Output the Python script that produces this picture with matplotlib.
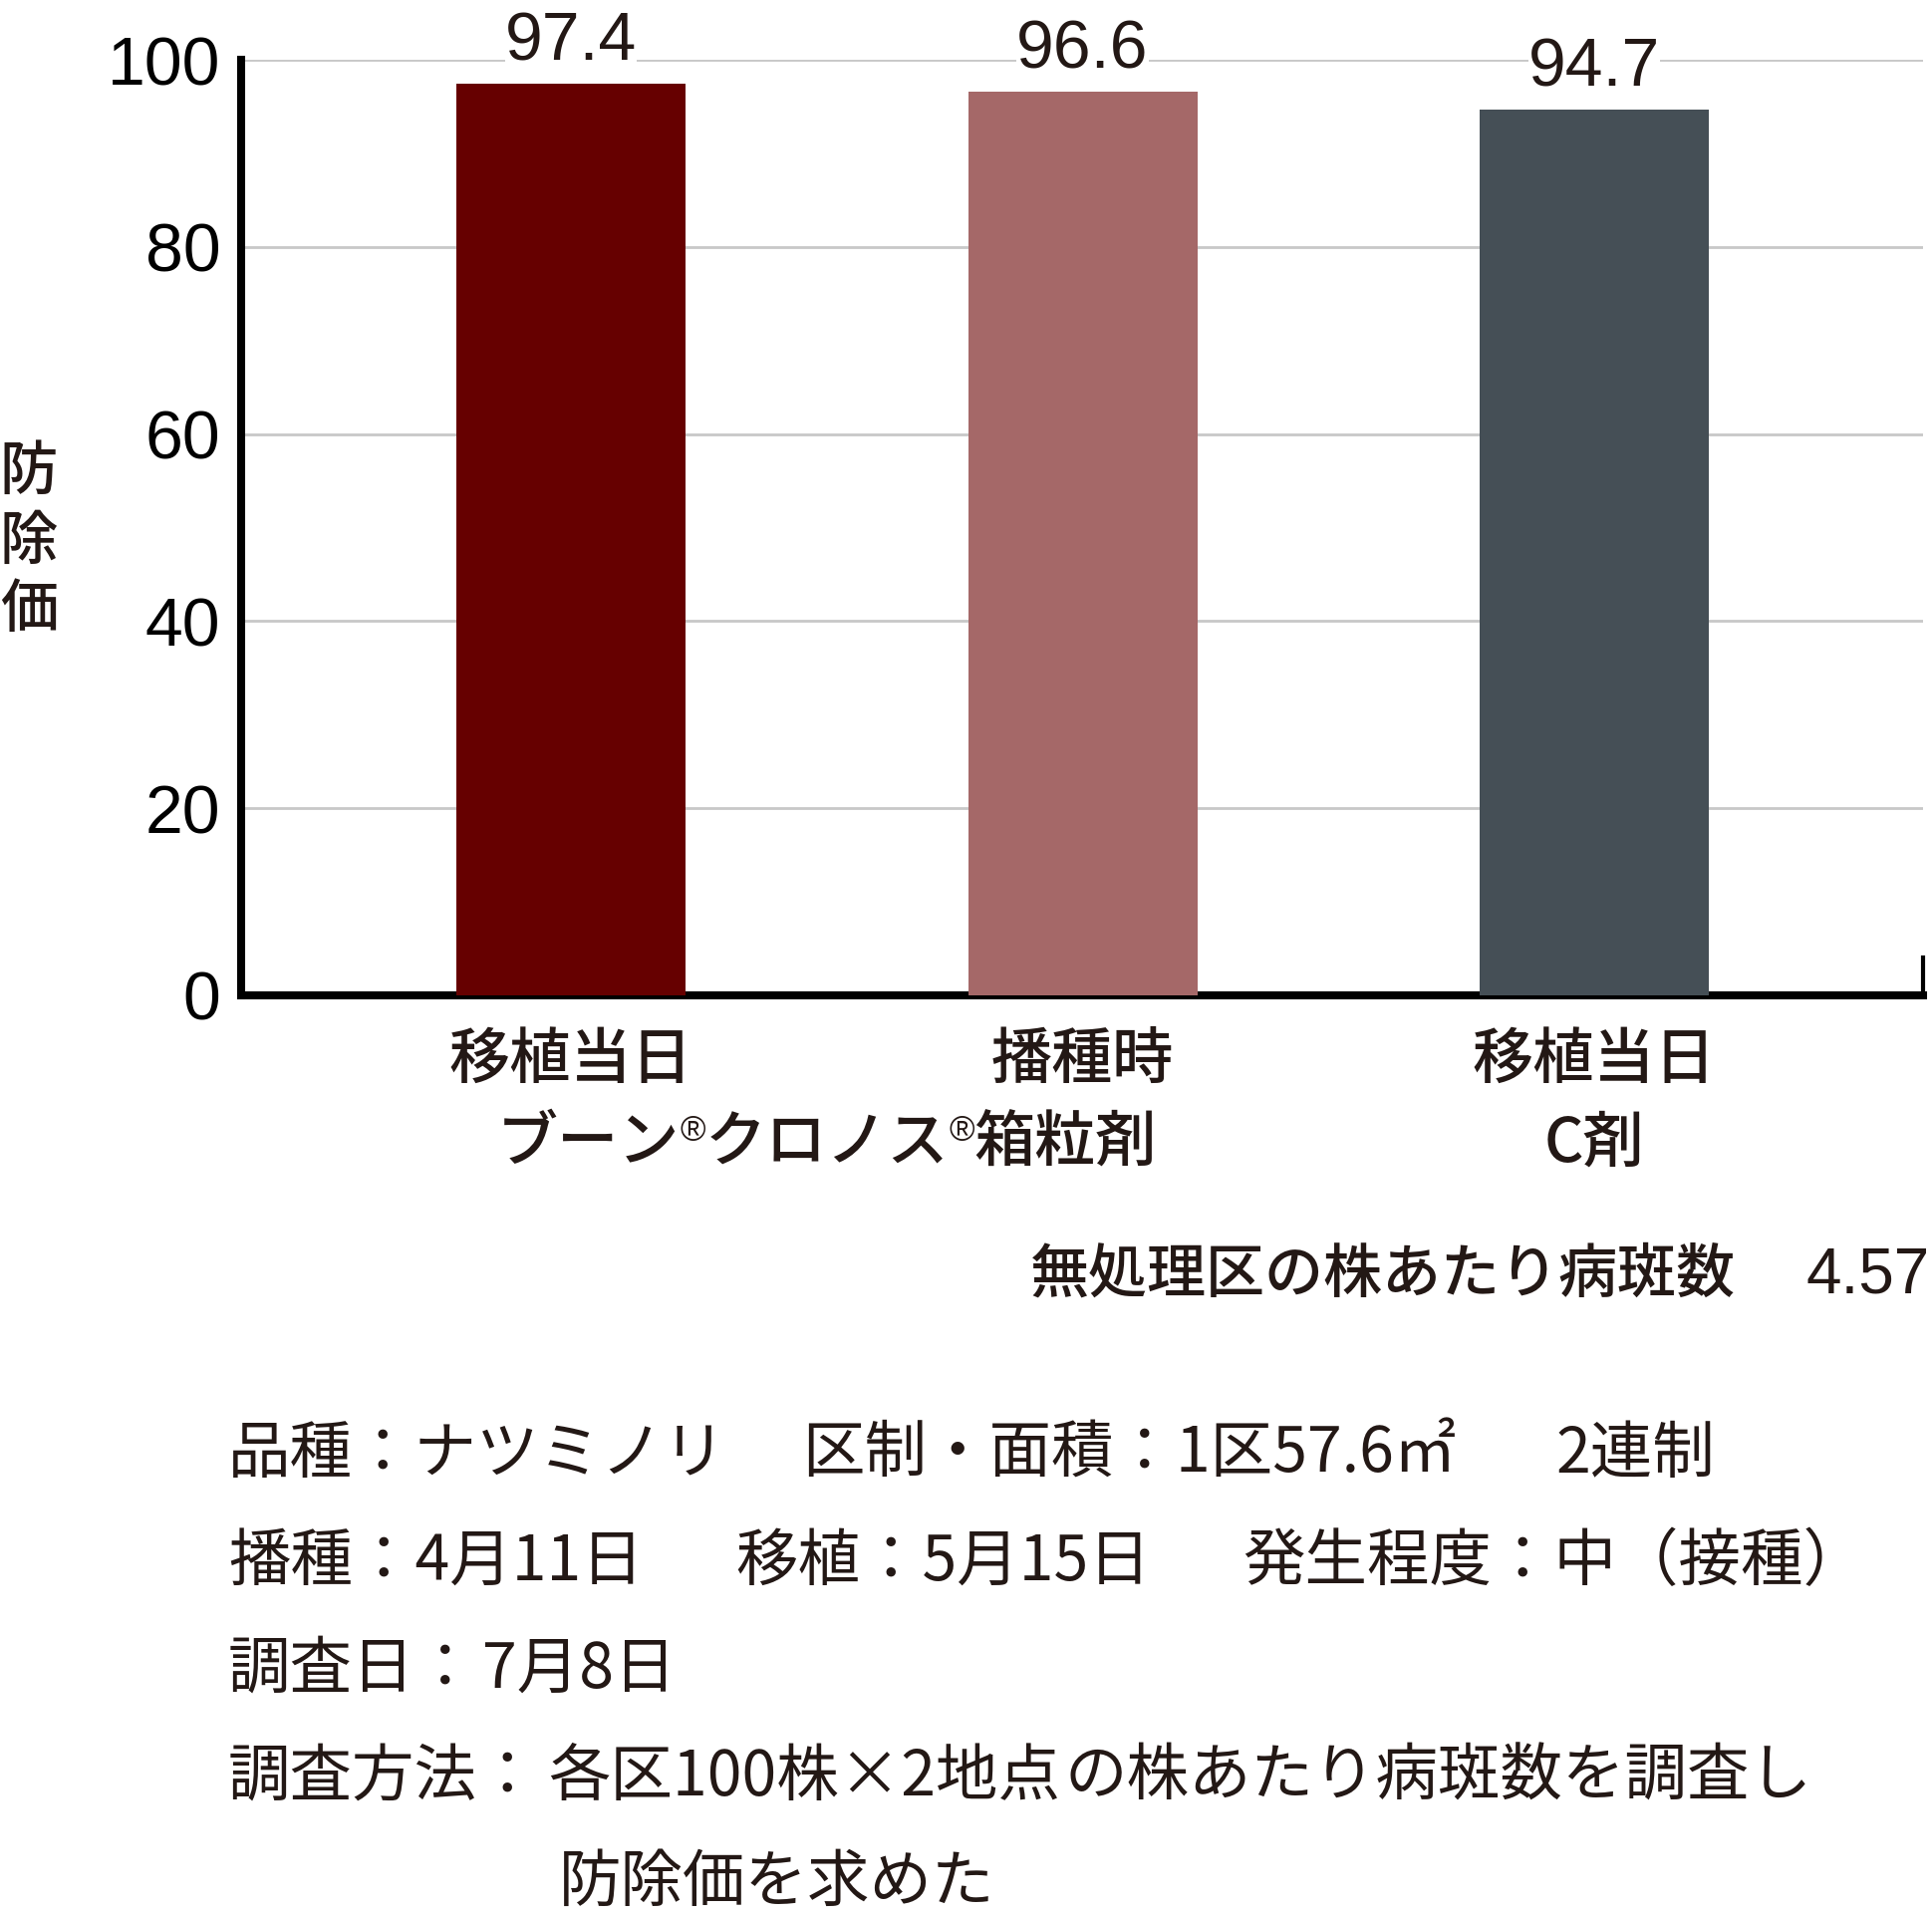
import numpy as np
import matplotlib
matplotlib.use("Agg")
from matplotlib import pyplot as plt
from matplotlib import transforms

plt.rcParams['font.family'] = ['Noto Sans CJK JP', 'DejaVu Sans']
plt.rcParams['font.weight'] = 'medium'

# data
timing = ["移植当日", "播種時", "移植当日"]
values = [97.4, 96.6, 94.7]
colors = ["#660000", "#a56868", "#454f56"]
yticks = [0, 20, 40, 60, 80, 100]
ylabel_chars = ["防", "除", "価"]
untreated_label = "無処理区の株あたり病斑数"
untreated_value = "4.57"
notes = [
    [("品種：ナツミノリ", 229), ("区制・面積：1区57.6㎡", 805), ("2連制", 1562)],
    [("播種：4月11日", 229), ("移植：5月15日", 738), ("発生程度：中（接種）", 1247)],
    [("調査日：", 229), ("7月8日", 484)],
    [("調査方法：", 229), ("各区100株×2地点", 550), ("の株あたり病斑数を調査し", 1068)],
    [("防除価を求めた", 561)],
]
note_y = [1460, 1568, 1676, 1784, 1890]

W, H = 1940, 1922
TXT = "#231815"
NUM = ["Liberation Sans", "DejaVu Sans"]
FS = 44

fig = plt.figure(figsize=(W / 100, H / 100), dpi=100)
ax = fig.add_axes([242 / W, 1 - 999 / H, (1930 - 242) / W, (999 - 60) / H])

x = np.arange(len(values))
ax.bar(x, values, width=0.448, color=colors, zorder=3)
ax.set_xlim(-0.645, 2.643)
ax.set_ylim(0, 100)
ax.set_yticks(yticks)
ax.set_yticklabels([str(t) for t in yticks], family=NUM, fontsize=49, color="black",
                   fontweight="normal")
ax.tick_params(axis="y", length=0, pad=15)
ax.set_xticks([])
ax.yaxis.grid(True, color="#c8c8c8", linewidth=2)
ax.set_axisbelow(True)

ax.spines["top"].set_visible(False)
ax.spines["left"].set_linewidth(5.8)
ax.spines["bottom"].set_linewidth(5.8)
ax.spines["right"].set_linewidth(3)
ax.spines["right"].set_bounds(0, 4)

for xi, v in zip(x, values):
    ax.annotate(f"{v}", xy=(xi, v), xytext=(0, 17), textcoords="offset points",
                ha="center", va="baseline", family=NUM, fontsize=49, color=TXT,
                fontweight="normal",
                bbox=dict(facecolor="white", edgecolor="none", pad=0), zorder=4,
                annotation_clip=False)

# category labels
trans = transforms.blended_transform_factory(ax.transData, fig.transFigure)
for xi, lab in zip(x, timing):
    fig.text(xi, 1 - 1064 / H, lab, transform=trans, ha="center", va="center",
             fontsize=FS, color=TXT)

y2 = 1 - 1148 / H
fig.text(2, y2, "C剤", transform=trans, ha="center", va="center", fontsize=FS, color=TXT)

# product name with small registered marks
pieces = [("ブーン", False), ("®", True), ("クロノス", False), ("®", True), ("箱粒剤", False)]
first = fig.text(0.5, y2, pieces[0][0], transform=trans, ha="left", va="center",
                 fontsize=FS, color=TXT)
prev = first
parts = [first]
for s, sup in pieces[1:]:
    if sup:
        t = ax.annotate(s, xy=(1, 0.44), xycoords=(prev, first), ha="left", va="bottom",
                        family=NUM, fontsize=25, color=TXT, annotation_clip=False)
    else:
        t = ax.annotate(s, xy=(1, 0), xycoords=(prev, first), ha="left", va="bottom",
                        fontsize=FS, color=TXT, annotation_clip=False)
    parts.append(t)
    prev = t

fig.canvas.draw()
bb0 = first.get_window_extent()
bb1 = parts[-1].get_window_extent()
center = (bb0.x0 + bb1.x1) / 2
target = ax.transData.transform((0.5, 0))[0]
unit = ax.transData.transform((1, 0))[0] - ax.transData.transform((0, 0))[0]
first.set_x(0.5 + (target - center) / unit)

# y label
for ch, yy in zip(ylabel_chars, [474, 544, 612]):
    fig.text(29 / W, 1 - yy / H, ch, ha="center", va="center", fontsize=42, color=TXT)

# untreated count
fig.text(1034 / W, 1 - 1280 / H, untreated_label, ha="left", va="center",
         fontsize=42.5, color=TXT)
fig.text(1937 / W, 1 - 1280 / H, untreated_value, ha="right", va="center",
         family=NUM, fontsize=46, color=TXT)

# notes
for line, yy in zip(notes, note_y):
    for s, xx in line:
        fig.text(xx / W, 1 - yy / H, s, ha="left", va="center", fontsize=45,
                 fontweight="normal", color=TXT)

fig.savefig("out.png", dpi=100, facecolor="white")
